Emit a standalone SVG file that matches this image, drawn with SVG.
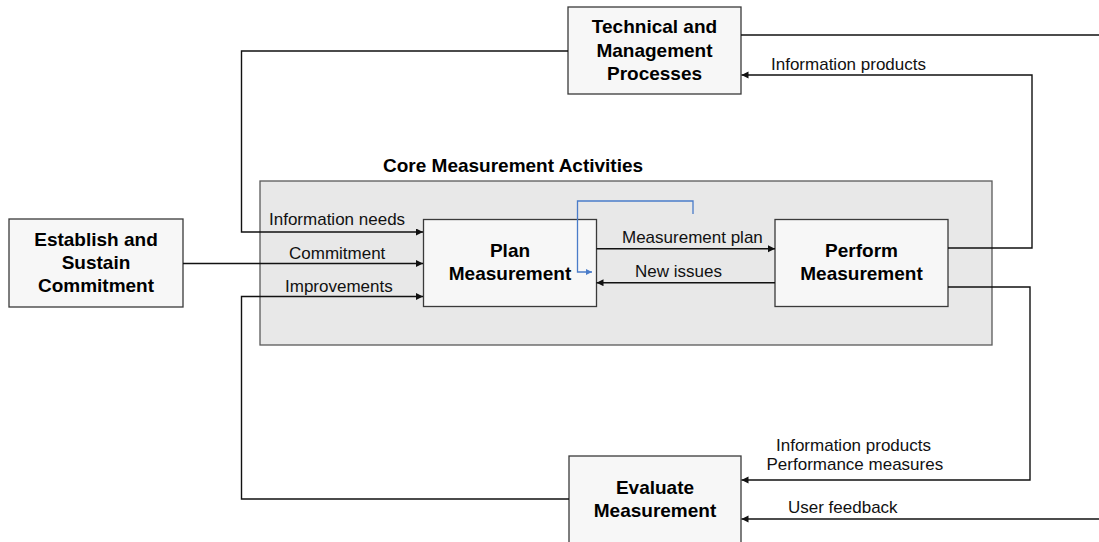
<svg xmlns="http://www.w3.org/2000/svg" width="1099" height="542" viewBox="0 0 1099 542">
<style>
.node{fill:#f7f7f7;stroke:#3a3a3a;stroke-width:1.3}
.core{fill:#e8e8e8;stroke:#5a5a5a;stroke-width:1.3}
.nt{font-family:"Liberation Sans",Arial,sans-serif;font-size:19px;font-weight:bold;fill:#000;text-anchor:middle}
.lbl{font-family:"Liberation Sans",Arial,sans-serif;font-size:17px;fill:#111}
.title{font-family:"Liberation Sans",Arial,sans-serif;font-size:19px;font-weight:bold;fill:#000}
.c{fill:none;stroke:#111;stroke-width:1.4}
.blue{fill:none;stroke:#4a7cc9;stroke-width:1.3}
</style>
<defs>
<marker id="ah" markerUnits="userSpaceOnUse" markerWidth="8" markerHeight="8" refX="7" refY="3.5" orient="auto">
<path d="M0,0 L7,3.5 L0,7 z" fill="#111"/>
</marker>
<marker id="ahb" markerUnits="userSpaceOnUse" markerWidth="8" markerHeight="8" refX="6" refY="3" orient="auto">
<path d="M0,0 L6,3 L0,6 z" fill="#4a7cc9"/>
</marker>
</defs>

<g id="core-activities">
<rect class="core" x="260" y="181" width="732" height="164"/>
<text class="title" x="383" y="171.5">Core Measurement Activities</text>
</g>

<g id="technical-management">
<rect class="node" x="568" y="7" width="173" height="87"/>
<text class="nt" x="654.5" y="33">Technical and</text>
<text class="nt" x="654.5" y="56.5">Management</text>
<text class="nt" x="654.5" y="79.5">Processes</text>
</g>

<g id="establish-sustain">
<rect class="node" x="9" y="219" width="174" height="88"/>
<text class="nt" x="96" y="246">Establish and</text>
<text class="nt" x="96" y="269">Sustain</text>
<text class="nt" x="96" y="292">Commitment</text>
</g>

<g id="plan-measurement">
<rect class="node" x="423.5" y="219.5" width="173" height="87"/>
<text class="nt" x="510" y="257">Plan</text>
<text class="nt" x="510" y="280">Measurement</text>
</g>

<g id="perform-measurement">
<rect class="node" x="775" y="219.5" width="173" height="87"/>
<text class="nt" x="861.5" y="257">Perform</text>
<text class="nt" x="861.5" y="280">Measurement</text>
</g>

<g id="evaluate-measurement">
<rect class="node" x="569" y="456" width="172" height="100"/>
<text class="nt" x="655" y="494">Evaluate</text>
<text class="nt" x="655" y="517">Measurement</text>
</g>

<g id="connectors">
<path class="c" d="M568,51 H241.5 V232 H423" marker-end="url(#ah)"/>
<path class="c" d="M741,35 H1099"/>
<path class="c" d="M948,248 H1032 V75 H741.5" marker-end="url(#ah)"/>
<path class="c" d="M183,263.5 H423" marker-end="url(#ah)"/>
<path class="c" d="M569,499 H241.5 V296.5 H423" marker-end="url(#ah)"/>
<path class="c" d="M596.5,248.7 H775" marker-end="url(#ah)"/>
<path class="c" d="M775,282.7 H596.5" marker-end="url(#ah)"/>
<path class="c" d="M948,287 H1030 V480 H741.5" marker-end="url(#ah)"/>
<path class="c" d="M1099,519 H741.5" marker-end="url(#ah)"/>
<path class="blue" d="M693,214 V201 H577.5 V272 H592" marker-end="url(#ahb)"/>
<text class="lbl" x="771" y="70">Information products</text>
<text class="lbl" x="269" y="225">Information needs</text>
<text class="lbl" x="289" y="259">Commitment</text>
<text class="lbl" x="285" y="291.5">Improvements</text>
<text class="lbl" x="622" y="243.3">Measurement plan</text>
<text class="lbl" x="635" y="277">New issues</text>
<text class="lbl" x="776" y="451">Information products</text>
<text class="lbl" x="766.5" y="470">Performance measures</text>
<text class="lbl" x="788" y="513">User feedback</text>
</g>
</svg>
